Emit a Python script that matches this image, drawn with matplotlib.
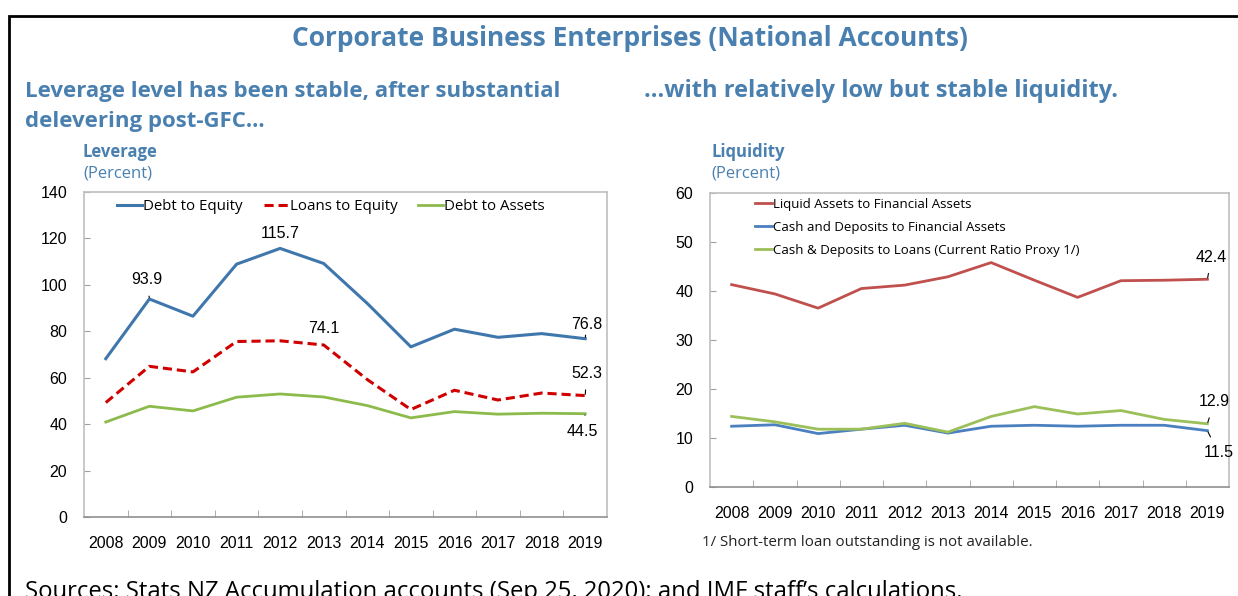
import numpy as np
import matplotlib
matplotlib.use("Agg")
import matplotlib.pyplot as plt
from matplotlib.patches import Rectangle

years = ["2008", "2009", "2010", "2011", "2012", "2013",
         "2014", "2015", "2016", "2017", "2018", "2019"]

# leverage (percent)
debt_to_equity = [68.2, 93.9, 86.5, 108.9, 115.7, 109.2, 92.0, 73.3, 80.9, 77.4, 79.0, 76.8]
loans_to_equity = [49.3, 64.9, 62.5, 75.6, 75.9, 74.1, 59.2, 46.3, 54.6, 50.4, 53.4, 52.3]
debt_to_assets = [40.9, 47.7, 45.7, 51.6, 53.0, 51.7, 48.0, 42.7, 45.4, 44.3, 44.7, 44.5]

# liquidity (percent)
liquid_to_fa = [41.3, 39.4, 36.5, 40.5, 41.2, 42.9, 45.8, 42.2, 38.7, 42.1, 42.2, 42.4]
cash_to_fa = [12.4, 12.7, 10.9, 11.8, 12.6, 11.0, 12.4, 12.6, 12.4, 12.6, 12.6, 11.5]
cash_to_loans = [14.4, 13.3, 11.8, 11.8, 13.0, 11.2, 14.4, 16.4, 14.9, 15.6, 13.8, 12.9]

TITLE_BLUE = "#4A80B0"
TICK_FONT = "Liberation Sans"
TEXT_FONT = "Open Sans"

fig = plt.figure(figsize=(12.38, 5.96), dpi=100)
W, H = 1238, 596


def fx(px):
    return px / W


def fy(py):
    return 1 - py / H


# outer frame (runs off the right and bottom edges)
fig.patches.append(Rectangle((fx(9), fy(1000)), 2.0, fy(16) - fy(1000),
                             transform=fig.transFigure, fill=False,
                             edgecolor="black", linewidth=2, zorder=0))

fig.text(fx(630), fy(38), "Corporate Business Enterprises (National Accounts)",
         ha="center", va="center", fontsize=19, fontweight="bold",
         color=TITLE_BLUE, family=TEXT_FONT)
fig.text(fx(25), fy(91), "Leverage level has been stable, after substantial",
         ha="left", va="center", fontsize=16, fontweight="bold",
         color=TITLE_BLUE, family=TEXT_FONT)
fig.text(fx(25), fy(122), "delevering post-GFC...",
         ha="left", va="center", fontsize=16, fontweight="bold",
         color=TITLE_BLUE, family=TEXT_FONT)
fig.text(fx(644), fy(91), "...with relatively low but stable liquidity.",
         ha="left", va="center", fontsize=17, fontweight="bold",
         color=TITLE_BLUE, family=TEXT_FONT)

fig.text(fx(83), fy(152), "Leverage", ha="left", va="center", fontsize=12,
         fontweight="bold", color=TITLE_BLUE, family=TEXT_FONT)
fig.text(fx(83), fy(174), "(Percent)", ha="left", va="center", fontsize=12,
         color=TITLE_BLUE, family=TEXT_FONT)
fig.text(fx(711), fy(152), "Liquidity", ha="left", va="center", fontsize=12,
         fontweight="bold", color=TITLE_BLUE, family=TEXT_FONT)
fig.text(fx(711), fy(174), "(Percent)", ha="left", va="center", fontsize=12,
         color=TITLE_BLUE, family=TEXT_FONT)

fig.text(fx(702), fy(543), "1/ Short-term loan outstanding is not available.",
         ha="left", va="center", fontsize=10.9, color="#222222", family=TEXT_FONT)
# the source line runs off the bottom edge, as in the original slide
fig.text(fx(25), fy(598), "Sources: Stats NZ Accumulation accounts (Sep 25, 2020); and IMF staff\u2019s calculations.",
         ha="left", va="baseline", fontsize=17.2, color="black", family=TEXT_FONT)


def style_axes(ax, ymax, ystep):
    x = np.arange(len(years))
    ax.set_xlim(-0.5, len(years) - 0.5)
    ax.set_ylim(0, ymax)
    ax.set_yticks(np.arange(0, ymax + 1, ystep))
    ax.set_xticks(x)
    ax.set_xticklabels(years)
    ax.set_xticks(np.arange(0.5, len(years) - 0.5, 1), minor=True)
    ax.tick_params(axis="x", which="major", length=0, pad=14, labelsize=11.5)
    ax.tick_params(axis="x", which="minor", length=5, direction="in", color="#A0A0A0")
    ax.tick_params(axis="y", length=4, direction="in", color="#A0A0A0",
                   pad=12, labelsize=11.5)
    for lab in ax.get_xticklabels() + ax.get_yticklabels():
        lab.set_family(TICK_FONT)
    for sp in ax.spines.values():
        sp.set_color("#BFBFBF")
        sp.set_linewidth(1.2)
    ax.spines["bottom"].set_color("#909090")
    return x


def label(ax, text, xy, xytext, line=True):
    ax.annotate(text, xy=xy, xytext=xytext, textcoords="offset points",
                ha="center", va="center", fontsize=11.5, family=TICK_FONT,
                arrowprops=dict(arrowstyle="-", color="black", lw=0.8,
                                shrinkA=4.5, shrinkB=1) if line else None)


# left: leverage
ax1 = fig.add_axes([fx(84), fy(517), fx(607) - fx(84), fy(192) - fy(517)])
x = style_axes(ax1, 140, 20)
ax1.plot(x, debt_to_equity, color="#3F77AD", lw=2.2, label="Debt to Equity")
ax1.plot(x, loans_to_equity, color="#D00000", lw=2.2, ls=(0, (3, 1.6)), label="Loans to Equity")
ax1.plot(x, debt_to_assets, color="#8CBB4C", lw=2.0, label="Debt to Assets")
ax1.legend(loc="upper left", ncol=3, frameon=False,
           bbox_to_anchor=(0.038, 1.02), handlelength=1.65, handletextpad=0.08,
           columnspacing=1.4, prop={"family": TEXT_FONT, "size": 10.8})
label(ax1, "93.9", (1, debt_to_equity[1]), (-1.5, 14))
label(ax1, "115.7", (4, debt_to_equity[4]), (0, 11), line=False)
label(ax1, "74.1", (5, loans_to_equity[5]), (0, 12))
label(ax1, "76.8", (11, debt_to_equity[11]), (1, 10))
label(ax1, "52.3", (11, loans_to_equity[11]), (1, 16))
label(ax1, "44.5", (11, debt_to_assets[11]), (-2, -13))

# right: liquidity
ax2 = fig.add_axes([fx(710), fy(487), fx(1229) - fx(710), fy(193) - fy(487)])
x = style_axes(ax2, 60, 10)
ax2.plot(x, liquid_to_fa, color="#C0504D", lw=2.0, label="Liquid Assets to Financial Assets")
ax2.plot(x, cash_to_fa, color="#4A7FC0", lw=2.0, label="Cash and Deposits to Financial Assets")
ax2.plot(x, cash_to_loans, color="#9BC05A", lw=2.0, label="Cash & Deposits to Loans (Current Ratio Proxy 1/)")
ax2.legend(loc="upper left", frameon=False, bbox_to_anchor=(0.063, 1.025),
           handlelength=1.35, handletextpad=0.08, labelspacing=0.78,
           prop={"family": TEXT_FONT, "size": 9.5})
label(ax2, "42.4", (11, liquid_to_fa[11]), (3, 16))
label(ax2, "12.9", (11, cash_to_loans[11]), (5, 16))
label(ax2, "11.5", (11, cash_to_fa[11]), (8, -16))

fig.savefig("out.png", dpi=100)
